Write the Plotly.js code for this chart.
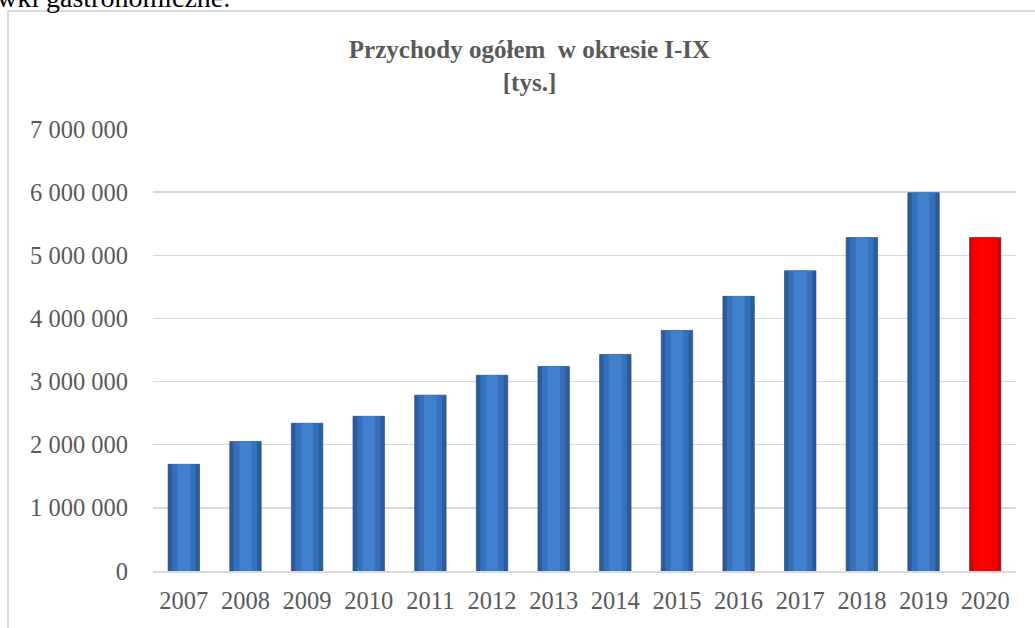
<!DOCTYPE html>
<html>
<head>
<meta charset="utf-8">
<script src="https://cdn.plot.ly/plotly-3.0.1.min.js"></script>
<style>
html,body{margin:0;padding:0;background:#fff;}
#chart{width:1035px;height:628px;}
</style>
</head>
<body>
<div id="chart"></div>
<script>
const years = ['2007','2008','2009','2010','2011','2012','2013','2014','2015','2016','2017','2018','2019','2020'];
const revenue = [1690000, 2050000, 2340000, 2450000, 2785000, 3100000, 3240000, 3430000, 3810000, 4350000, 4755000, 5280000, 5990000, 5280000];
const tickValues = [0, 1000000, 2000000, 3000000, 4000000, 5000000, 6000000, 7000000];
const tickLabels = ['0', '1 000 000', '2 000 000', '3 000 000', '4 000 000', '5 000 000', '6 000 000', '7 000 000'];
const titleText = 'Przychody ogółem  w okresie I-IX<br>[tys.]';
const headerText = 'wki gastronomiczne.';

const highlightYear = '2020';
const outer = years.map(y => y === highlightYear ? '#d80000' : '#2b5c9c');
const mid = years.map(y => y === highlightYear ? '#f50000' : '#3670bb');
const inner = years.map(y => y === highlightYear ? '#ff0000' : '#4180cf');

const W = 1035, H = 628;
const L = 153, R = 19, T = 129, B = 57;
const pw = W - L - R, ph = H - T - B;
const px2x = p => (p - L) / pw;
const py2y = p => (H - B - p) / ph;

const traces = [
  {type:'bar', x: years, y: revenue, width: 0.51, marker:{color: outer, line:{color:'rgba(30,60,110,0.6)', width:1}}, hoverinfo:'skip', showlegend:false},
  {type:'bar', x: years, y: revenue, width: 0.38, marker:{color: mid, line:{width:0}}, hoverinfo:'skip', showlegend:false},
  {type:'bar', x: years, y: revenue, width: 0.2, marker:{color: inner, line:{width:0}}, hoverinfo:'skip', showlegend:false}
];

const layout = {
  width: W, height: H,
  margin: {l: L, r: R, t: T, b: B, pad: 0},
  paper_bgcolor: '#ffffff', plot_bgcolor: '#ffffff',
  barmode: 'overlay',
  showlegend: false,
  font: {family: '"Liberation Serif", "Times New Roman", serif', color: '#595959'},
  title: {
    text: '<b>' + titleText.replace('<br>', '</b><br><b>') + '</b>',
    font: {family: '"Liberation Serif", "Times New Roman", serif', size: 25, color: '#595959'},
    x: 529.5 / W, xanchor: 'center', xref: 'container',
    y: 1 - 58 / H, yanchor: 'top', yref: 'container'
  },
  xaxis: {
    type: 'category',
    tickfont: {size: 24.5, color: '#595959'},
    showgrid: false, zeroline: false,
    showline: true, linecolor: '#d9d9d9', linewidth: 1.5,
    ticks: '', ticklabelstandoff: 7,
    fixedrange: true
  },
  yaxis: {
    range: [0, 7000000],
    tickmode: 'array', tickvals: tickValues, ticktext: tickLabels,
    tickfont: {size: 24.5, color: '#595959'},
    showgrid: true, gridcolor: '#d9d9d9', gridwidth: 1.5,
    zeroline: false, showline: false, ticks: '',
    ticklabelstandoff: 24,
    fixedrange: true
  },
  shapes: [
    {type:'line', xref:'paper', yref:'paper', x0: px2x(8), x1: px2x(8), y0: py2y(11), y1: py2y(640), line:{color:'#d9d9d9', width:2}},
    {type:'line', xref:'paper', yref:'paper', x0: px2x(8), x1: px2x(1045), y0: py2y(11), y1: py2y(11), line:{color:'#d9d9d9', width:2}}
  ],
  annotations: [
    {text: headerText, xref:'paper', yref:'paper', x: px2x(-5), y: py2y(15), xanchor:'left', yanchor:'bottom', showarrow:false,
     font:{family:'"Liberation Serif", "Times New Roman", serif', size: 28, color:'#000000'}}
  ]
};

Plotly.newPlot('chart', traces, layout, {displayModeBar: false, staticPlot: true});
</script>
</body>
</html>
